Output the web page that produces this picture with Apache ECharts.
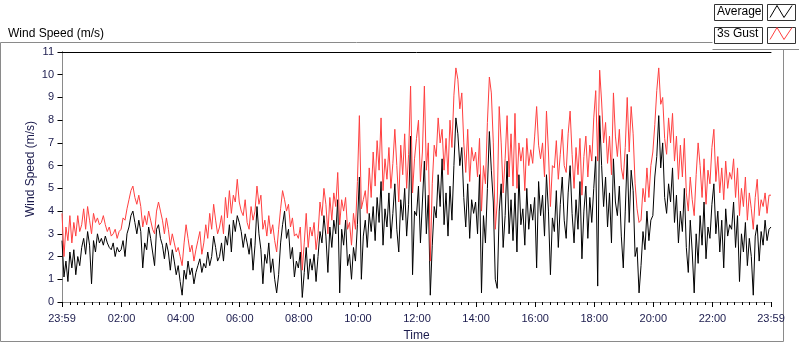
<!DOCTYPE html>
<html>
<head>
<meta charset="utf-8">
<script src="https://cdn.jsdelivr.net/npm/echarts@6/dist/echarts.min.js"></script>
<style>html,body{margin:0;padding:0;background:#fff;}#chart{width:800px;height:342px;}</style>
</head>
<body>
<div id="chart"></div>
<script>
// Sampling: one value every 4 minutes, starting at 23:59 (minute -1 relative to 00:00)
const startMinute = -1;
const stepMinutes = 4;

const avgSpeed = [
2.7,1.1,1.8,0.9,2.2,1.5,2.3,1.2,2.0,1.6,
2.4,2.8,2.1,3.1,2.5,0.8,2.7,2.2,3.0,2.6,
2.8,2.5,2.9,2.6,2.4,2.3,2.6,2.0,2.4,2.2,
2.3,2.7,2.0,3.0,3.3,3.8,4.0,3.5,3.0,3.6,
3.1,1.5,2.6,2.3,3.3,2.8,2.2,1.6,3.2,3.4,
2.8,2.5,1.9,2.6,2.2,1.4,2.3,1.8,1.2,1.6,
0.9,0.3,1.4,1.0,1.8,1.2,1.5,0.8,1.3,1.6,
1.9,1.3,1.7,1.5,2.2,1.6,2.0,2.9,2.4,1.8,
2.0,2.6,1.8,2.9,2.5,3.4,2.2,3.6,3.1,3.8,
3.5,3.1,2.4,3.0,2.6,2.1,2.8,1.4,2.5,4.2,
3.0,2.3,0.8,2.1,1.7,2.6,1.3,1.9,1.0,0.4,
1.2,2.6,3.4,4.0,2.8,3.2,1.9,2.4,1.1,1.8,
1.5,2.2,0.2,1.3,2.4,1.0,1.9,1.4,2.1,0.9,
2.0,3.1,2.6,3.8,2.9,1.3,3.3,2.4,3.6,3.0,
4.5,0.4,3.2,2.5,3.6,1.6,2.1,1.0,2.4,1.8,
3.4,5.5,1.0,2.9,3.6,2.4,3.9,3.1,4.2,2.7,
4.6,3.5,5.3,2.5,4.1,3.3,4.8,2.8,3.9,5.2,
3.2,2.2,4.5,3.6,5.0,2.9,4.3,7.3,1.2,4.0,
3.8,5.1,2.6,4.4,6.2,3.0,4.7,0.3,2.5,4.2,
3.7,5.6,4.2,6.3,3.4,4.8,2.9,5.1,3.6,6.0,
8.1,7.4,6.0,6.8,4.6,3.3,5.2,2.8,4.5,3.9,
4.4,3.0,5.6,0.4,3.8,2.6,5.0,7.5,5.8,4.4,
1.0,0.6,4.0,5.2,2.4,3.8,6.2,3.0,4.5,2.7,
4.8,2.2,5.6,3.4,4.1,2.5,5.0,3.2,4.3,3.6,
4.6,1.5,5.3,3.8,4.7,2.9,5.6,4.0,1.2,3.7,
3.1,4.9,2.4,4.3,5.5,3.6,2.8,4.8,6.0,3.9,
2.6,4.5,3.2,5.3,1.9,4.0,5.1,2.8,4.6,3.5,
5.0,6.4,0.7,8.2,6.0,4.2,5.5,3.3,4.8,2.6,
6.3,4.4,3.8,5.1,2.9,1.5,4.0,6.5,3.5,5.8,
4.9,2.0,2.4,0.4,1.6,3.1,2.3,4.0,2.7,3.6,
3.8,5.5,6.4,8.2,5.9,7.0,4.6,3.9,5.2,4.4,
5.9,3.5,4.7,2.6,4.0,3.1,5.0,2.4,1.3,3.6,
2.2,0.4,3.0,1.7,3.8,2.5,4.4,1.9,3.3,2.8,
4.3,5.2,3.0,4.0,2.2,3.6,1.5,4.1,2.9,3.4,
3.2,4.4,2.4,3.8,0.9,3.0,2.2,3.5,1.6,2.8,
2.0,0.3,2.9,3.4,1.8,3.1,2.5,3.6,2.7,3.2,
3.3
];

const gustSpeed = [
3.9,2.0,3.3,2.7,3.8,2.6,3.5,2.9,3.8,3.1,
3.4,4.1,3.2,4.2,3.6,3.0,3.9,3.5,3.7,3.4,
3.5,3.8,3.4,3.1,3.3,2.9,3.0,3.2,2.8,3.1,
3.2,3.7,3.6,4.1,4.5,4.9,5.1,4.6,4.3,4.7,
4.2,3.3,3.8,3.4,4.0,3.6,3.2,3.0,4.0,4.4,
4.0,3.6,3.0,3.7,3.2,2.5,3.0,2.6,2.2,2.4,
2.0,1.6,2.6,3.4,2.8,2.2,2.5,1.8,2.3,2.7,
3.1,2.1,2.6,3.4,2.8,3.9,3.2,4.3,3.6,3.0,
3.3,3.8,3.0,4.6,3.7,4.9,3.9,4.7,4.4,5.4,
4.4,4.0,3.8,4.5,3.5,3.2,4.2,3.6,4.0,5.1,
4.3,4.7,3.2,3.6,2.9,3.8,3.0,3.4,2.7,2.2,
3.2,4.1,4.9,4.5,4.0,4.3,3.3,3.7,2.9,3.0,
2.8,3.3,1.4,2.6,3.9,2.4,3.3,2.9,3.5,2.3,
3.0,4.4,3.8,5.0,4.3,3.0,4.6,3.6,4.8,4.2,
5.7,3.4,4.5,4.0,4.6,3.2,3.5,2.5,3.9,3.2,
5.3,8.2,4.1,4.5,4.9,3.9,5.9,4.6,6.6,5.1,
7.1,5.8,8.1,4.9,6.3,5.4,6.8,5.0,6.1,7.6,
6.0,4.4,6.9,5.6,7.4,5.0,6.5,9.5,4.8,6.3,
7.2,8.0,5.3,6.6,9.5,5.8,7.0,1.8,5.2,6.9,
6.4,8.1,7.0,7.6,5.8,7.2,5.6,8.0,6.8,9.1,
10.3,9.8,8.5,9.2,7.0,5.7,7.6,5.3,6.8,6.2,
6.6,5.5,7.2,4.0,6.0,5.2,7.9,9.9,9.2,7.0,
3.2,4.4,8.6,7.0,4.8,6.3,8.2,5.5,7.4,5.1,
8.3,5.0,7.0,6.2,6.8,4.9,7.2,6.0,6.7,6.1,
7.3,8.6,6.9,6.3,7.0,5.5,8.4,6.6,4.2,6.0,
5.9,7.1,5.4,6.5,7.6,6.0,5.7,7.4,8.4,6.5,
5.0,6.8,5.6,7.2,4.7,6.4,7.3,5.5,6.9,6.2,
8.1,9.3,6.2,10.2,8.8,7.0,7.9,6.1,7.3,5.6,
9.2,7.3,6.4,7.6,5.9,5.4,6.8,9.0,6.6,8.6,
7.4,5.2,4.1,3.5,3.6,5.0,4.4,5.9,4.6,6.0,
6.6,7.8,9.3,10.3,8.7,9.0,7.2,6.5,8.1,7.0,
8.3,6.2,7.3,5.4,6.9,5.5,7.2,4.8,4.0,5.5,
4.5,3.8,5.6,7.0,6.0,4.6,6.3,4.3,5.8,5.2,
6.8,7.6,5.3,6.4,4.8,5.9,4.5,6.2,5.0,5.7,
5.4,6.3,4.6,5.9,3.8,5.0,4.2,5.5,3.6,4.8,
4.1,3.2,4.6,5.4,3.8,4.5,4.2,4.8,3.9,4.7,
4.7
];

// Axis labels (minutes relative to 00:00)
const labelMinutes = [-1,120,240,360,480,600,720,840,960,1080,1200,1320,1439];
const timeLabels = ['23:59','02:00','04:00','06:00','08:00','10:00','12:00','14:00','16:00','18:00','20:00','22:00','23:59'];
const minorTickMinutes = [];
for (let m = 0; m < 1440; m += 15) minorTickMinutes.push(m);
minorTickMinutes.push(1439);

const seriesNames = ['Average', '3s Gust'];

const toPairs = arr => arr.map((v, i) => [startMinute + i * stepMinutes, v]);

const FONT = 'Liberation Sans';
const NAVY = '#1b1b4d';

const chart = echarts.init(document.getElementById('chart'), null, {renderer: 'canvas'});
chart.setOption({
  animation: false,
  backgroundColor: '#fff',
  title: {
    text: 'Wind Speed (m/s)', left: 3, top: 23,
    textStyle: {fontFamily: FONT, fontSize: 12, fontWeight: 'normal', color: '#000'}
  },
  legend: {
    orient: 'vertical', left: 717, top: 5, align: 'right', padding: 0,
    itemGap: 9, itemWidth: 22, itemHeight: 14,
    icon: 'path://M0,12 L7,0 L14,12 L22,0',
    data: [
      {name: seriesNames[0], itemStyle: {color: 'transparent', borderColor: '#000', borderWidth: 1}},
      {name: seriesNames[1], itemStyle: {color: 'transparent', borderColor: '#ff4040', borderWidth: 1}}
    ],
    formatter: '{a|{name}}',
    textStyle: {fontFamily: FONT, fontSize: 12, color: '#000',
      rich: {a: {width: 48, align: 'left', fontFamily: FONT, fontSize: 12, color: '#000'}}}
  },
  graphic: [
    {type: 'polyline', shape: {points: [[0.5, 341.5], [0.5, 42.5], [712.5, 42.5]]}, style: {stroke: '#8a8a8a', fill: null, lineWidth: 1}, silent: true},
    {type: 'polyline', shape: {points: [[712.5, 49.5], [799, 49.5]]}, style: {stroke: '#8a8a8a', fill: null, lineWidth: 1}, silent: true},
    {type: 'polyline', shape: {points: [[783.5, 49.5], [783.5, 341.5], [0.5, 341.5]]}, style: {stroke: '#8a8a8a', fill: null, lineWidth: 1}, silent: true},
    {type: 'rect', shape: {x: 714.5, y: 4.5, width: 48, height: 16}, style: {stroke: '#333', fill: null, lineWidth: 1}, silent: true},
    {type: 'rect', shape: {x: 767.5, y: 4.5, width: 28, height: 16}, style: {stroke: '#333', fill: null, lineWidth: 1}, silent: true},
    {type: 'rect', shape: {x: 714.5, y: 27.5, width: 48, height: 16}, style: {stroke: '#333', fill: null, lineWidth: 1}, silent: true},
    {type: 'rect', shape: {x: 767.5, y: 27.5, width: 28, height: 16}, style: {stroke: '#333', fill: null, lineWidth: 1}, silent: true}
  ],
  grid: {left: 62, right: 29, top: 52, bottom: 40, show: false, outerBoundsMode: 'none', containLabel: false},
  xAxis: [
    {
      type: 'value', min: -1, max: 1439, position: 'bottom',
      name: 'Time', nameLocation: 'middle', nameGap: 28, nameMoveOverlap: false,
      nameTextStyle: {fontFamily: FONT, fontSize: 12, color: NAVY},
      axisLine: {show: true, lineStyle: {color: '#8a8a8a', width: 1}},
      axisTick: {show: true, length: 5, customValues: labelMinutes, lineStyle: {color: '#000', width: 1}},
      axisLabel: {show: true, customValues: labelMinutes, margin: 11,
        fontFamily: FONT, fontSize: 11, color: NAVY,
        formatter: v => timeLabels[labelMinutes.indexOf(v)] || ''},
      splitLine: {show: false}
    },
    {
      type: 'value', min: -1, max: 1439, position: 'bottom',
      axisLine: {show: false},
      axisTick: {show: true, length: 3, customValues: minorTickMinutes, lineStyle: {color: '#000', width: 1}},
      axisLabel: {show: false},
      splitLine: {show: false}
    },
    {
      type: 'value', min: -1, max: 1439, position: 'top',
      axisLine: {show: true, lineStyle: {color: '#000', width: 1}},
      axisTick: {show: false}, axisLabel: {show: false}, splitLine: {show: false}
    }
  ],
  yAxis: [
    {
      type: 'value', min: 0, max: 11, interval: 1, position: 'left',
      name: 'Wind Speed (m/s)', nameLocation: 'middle', nameGap: 25, nameRotate: 90, nameMoveOverlap: false,
      nameTextStyle: {fontFamily: FONT, fontSize: 12, color: NAVY, padding: [0, 0, 0, 16]},
      axisLine: {show: true, lineStyle: {color: '#000', width: 1}},
      axisTick: {show: true, length: 5, lineStyle: {color: '#000'}},
      axisLabel: {margin: 8, fontFamily: FONT, fontSize: 11, color: NAVY},
      splitLine: {show: false}
    },
    {
      type: 'value', min: 0, max: 11, position: 'right',
      axisLine: {show: true, lineStyle: {color: '#8a8a8a', width: 1}},
      axisTick: {show: false}, axisLabel: {show: false}, splitLine: {show: false}
    }
  ],
  series: [
    {
      name: seriesNames[0], type: 'line', xAxisIndex: 0, yAxisIndex: 0,
      data: toPairs(avgSpeed), showSymbol: false, symbol: 'none',
      lineStyle: {color: '#000', width: 1}, itemStyle: {color: '#000'}
    },
    {
      name: seriesNames[1], type: 'line', xAxisIndex: 0, yAxisIndex: 0,
      data: toPairs(gustSpeed), showSymbol: false, symbol: 'none',
      lineStyle: {color: '#ff4040', width: 1}, itemStyle: {color: '#ff4040'}
    }
  ]
});
</script>
</body>
</html>
